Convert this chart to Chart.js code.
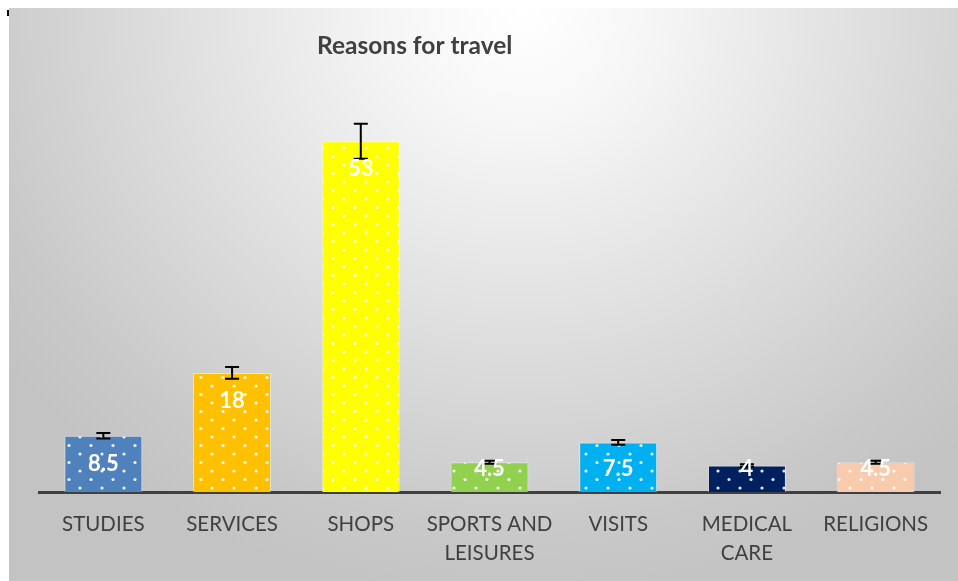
<!DOCTYPE html>
<html lang="en">
<head>
    <meta charset="UTF-8">
    <title>Reasons for travel</title>
    <script src="https://cdn.jsdelivr.net/npm/chart.js"></script>
    <style>
        body {
            margin: 0;
            background: #ffffff;
        }
        #chart-container {
            position: absolute;
            left: 9px;
            top: 8px;
            width: 949px;
            height: 573px;
            background: radial-gradient(ellipse 640px 600px at 54% 0%, #ffffff 0%, #f6f6f6 20%, #c8c8c8 88%, #c3c3c3 100%);
        }
        #corner-mark {
            position: absolute;
            left: 7px;
            top: 10px;
            width: 2px;
            height: 6px;
            background: #000000;
        }
    </style>
</head>
<body>
    <div id="corner-mark"></div>
    <div id="chart-container">
        <canvas id="travelChart"></canvas>
    </div>

    <script>
        const categories = [['STUDIES'], ['SERVICES'], ['SHOPS'], ['SPORTS AND', 'LEISURES'], ['VISITS'], ['MEDICAL', 'CARE'], ['RELIGIONS']];
        const shares = [8.5, 18, 53, 4.5, 7.5, 4, 4.5];
        const errorPercent = 5;
        const yMax = 60;
        const barColours = ['#4F81BD', '#FFC000', '#FFFF00', '#92D050', '#00B0F0', '#002060', '#F8CBAD'];

        // dotted fill, like the office "small confetti" pattern
        function dotPattern(colour) {
            const tile = document.createElement('canvas');
            tile.width = 22;
            tile.height = 17;
            const t = tile.getContext('2d');
            t.fillStyle = colour;
            t.fillRect(0, 0, 22, 17);
            t.fillStyle = 'rgba(255,255,255,0.9)';
            [[5, 4], [16, 12.5]].forEach(([x, y]) => {
                t.beginPath();
                t.arc(x, y, 1.6, 0, Math.PI * 2);
                t.fill();
            });
            return t.createPattern(tile, 'repeat');
        }

        const textColour = '#404040';

        const titlePlugin = {
            id: 'titleText',
            afterDraw(chart) {
                const ctx = chart.ctx;
                const area = chart.chartArea;
                ctx.save();
                ctx.font = 'bold 24.5px Lato';
                ctx.fillStyle = textColour;
                ctx.textAlign = 'center';
                ctx.textBaseline = 'middle';
                ctx.fillText('Reasons for travel', area.left + area.width * 0.417, 38);
                ctx.restore();
            }
        };

        // percentage error bars, then the value labels on top of them
        const errorBarsAndLabels = {
            id: 'errorBarsAndLabels',
            afterDatasetsDraw(chart) {
                const ctx = chart.ctx;
                const y = chart.scales.y;
                const meta = chart.getDatasetMeta(0);
                ctx.save();
                ctx.strokeStyle = '#000000';
                ctx.lineWidth = 2;
                meta.data.forEach((bar, i) => {
                    const v = shares[i];
                    const hi = y.getPixelForValue(v * (1 + errorPercent / 100));
                    const lo = y.getPixelForValue(v * (1 - errorPercent / 100));
                    ctx.beginPath();
                    ctx.moveTo(bar.x, hi);
                    ctx.lineTo(bar.x, lo);
                    ctx.moveTo(bar.x - 7, hi);
                    ctx.lineTo(bar.x + 7, hi);
                    ctx.moveTo(bar.x - 7, lo);
                    ctx.lineTo(bar.x + 7, lo);
                    ctx.stroke();
                });
                ctx.font = 'bold 22px Lato';
                ctx.fillStyle = '#ffffff';
                ctx.textAlign = 'center';
                ctx.textBaseline = 'middle';
                meta.data.forEach((bar, i) => {
                    const ly = Math.min(bar.y + 28, bar.base - 23);
                    ctx.fillText(String(shares[i]), bar.x, ly);
                });
                ctx.restore();
            }
        };

        const chartCanvas = document.getElementById('travelChart').getContext('2d');

        new Chart(chartCanvas, {
            type: 'bar',
            data: {
                labels: categories,
                datasets: [{
                    data: shares,
                    backgroundColor: barColours.map(dotPattern),
                    borderColor: 'rgba(255,255,255,0.45)',
                    borderWidth: 1,
                    barPercentage: 0.606,
                    categoryPercentage: 1
                }]
            },
            options: {
                responsive: true,
                maintainAspectRatio: false,
                animation: false,
                layout: {
                    padding: { left: 30, right: 18, top: 87, bottom: 0 }
                },
                plugins: {
                    legend: { display: false },
                    tooltip: { enabled: false }
                },
                scales: {
                    x: {
                        z: 1,
                        grid: { display: false, drawTicks: false, tickLength: 0 },
                        border: { display: true, color: textColour, width: 3 },
                        ticks: {
                            color: textColour,
                            font: { family: 'Lato', size: 20.5, lineHeight: 1.42 },
                            padding: 18,
                            maxRotation: 0,
                            autoSkip: false
                        },
                        afterFit(scale) {
                            scale.height = 89;
                        }
                    },
                    y: {
                        display: false,
                        min: 0,
                        max: yMax
                    }
                }
            },
            plugins: [titlePlugin, errorBarsAndLabels]
        });
    </script>
</body>
</html>
